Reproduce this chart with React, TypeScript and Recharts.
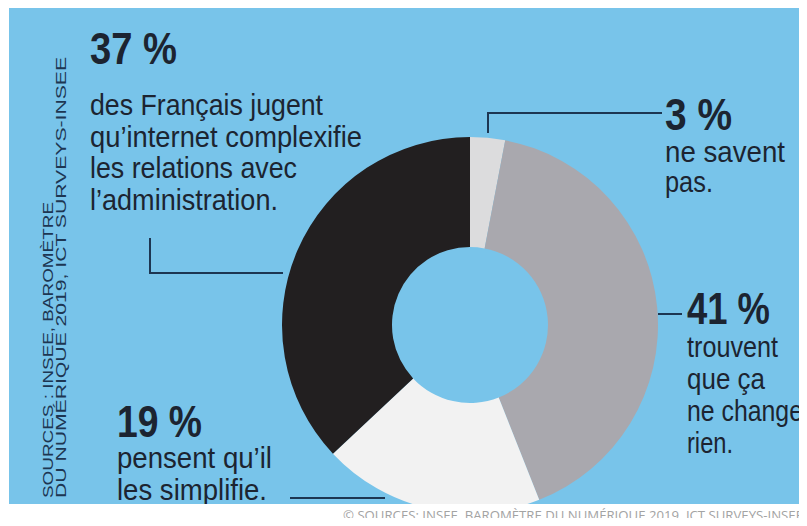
import { PieChart, Pie, Cell } from 'recharts';

// share of French people, by opinion on internet & administration (INSEE 2019)
const categories = ['ne savent pas', 'ne change rien', 'simplifie', 'complexifie'];
const shares = [3, 41, 19, 37];

const label37 = ['des Français jugent', 'qu’internet complexifie', 'les relations avec', 'l’administration.'];
const label3 = ['ne savent', 'pas.'];
const label41 = ['trouvent', 'que ça', 'ne change', 'rien.'];
const label19 = ['pensent qu’il', 'les simplifie.'];

const sideSource = ['SOURCES : INSEE, BAROMÈTRE', 'DU NUMÉRIQUE 2019, ICT SURVEYS-INSEE'];
const caption = '© SOURCES: INSEE, BAROMÈTRE DU NUMÉRIQUE 2019, ICT SURVEYS-INSEE';

const COLORS = ['#dcdcdd', '#a9a8ae', '#f2f2f2', '#221f20'];
const BLUE = '#78c4ea';
const INK = '#1c2431';
const LINE = '#1d3652';

const W = 797;
const H = 497;
const CX = 456;
const CY = 313;

const data = categories.map((name, i) => ({ name, value: shares[i] }));

const font = '"Liberation Sans", Arial, sans-serif';

function Block({ x, y, head, lines, headW, lineW, gap = 32, first = 51 }: any) {
  return (
    <g>
      <text x={x} y={y} fontFamily={font} fontWeight={700} fontSize={44} fill={INK}
        textLength={headW} lengthAdjust="spacingAndGlyphs">
        {head}
      </text>
      {lines.map((l: string, i: number) => (
        <text key={l} x={x} y={y + first + i * gap} fontFamily={font} fontSize={29} fill={INK}
          textLength={lineW[i]} lengthAdjust="spacingAndGlyphs">
          {l}
        </text>
      ))}
    </g>
  );
}

export default function App() {
  return (
    <div style={{ width: 791, height: 510, position: 'relative' }}>
      <div style={{ position: 'absolute', left: 1, top: -1, width: W, height: H, background: BLUE, overflow: 'hidden' }}>
        <PieChart width={W} height={H}>
          <Pie
            data={data}
            dataKey="value"
            nameKey="name"
            cx={CX}
            cy={CY}
            innerRadius={78}
            outerRadius={188}
            startAngle={90}
            endAngle={-270}
            stroke="none"
            isAnimationActive={false}
          >
            {data.map((d, i) => (
              <Cell key={d.name} fill={COLORS[i]} />
            ))}
          </Pie>

          {/* leader lines */}
          <polyline points="141,231 141,266 274,266" fill="none" stroke={LINE} strokeWidth={2} />
          <polyline points="479,126 479,106 653,106" fill="none" stroke={LINE} strokeWidth={2} />
          <line x1={649} y1={307} x2={673} y2={307} stroke={LINE} strokeWidth={2} />
          <line x1={281} y1={491} x2={376} y2={491} stroke={LINE} strokeWidth={2} />

          <Block x={81} y={57} head={`${shares[3]} %`} headW={87} lines={label37}
            lineW={[233, 272, 207, 188]} first={51} gap={31.7} />
          <Block x={656} y={123} head={`${shares[0]} %`} headW={67} lines={label3}
            lineW={[120, 48]} first={32} gap={30} />
          <Block x={678} y={317} head={`${shares[1]} %`} headW={83} lines={label41}
            lineW={[91, 78, 116, 46]} first={33} gap={32} />
          <Block x={108} y={430} head={`${shares[2]} %`} headW={85} lines={label19}
            lineW={[155, 150]} first={31} gap={32} />

          {/* vertical source note */}
          <text x={44} y={491} transform="rotate(-90 44 491)" fontFamily={font} fontSize={15.5}
            fill={LINE} textLength={296} lengthAdjust="spacingAndGlyphs">
            {sideSource[0]}
          </text>
          <text x={57} y={491} transform="rotate(-90 57 491)" fontFamily={font} fontSize={15.5}
            fill={LINE} textLength={441} lengthAdjust="spacingAndGlyphs">
            {sideSource[1]}
          </text>
        </PieChart>
      </div>
      <svg width={W} height={20} style={{ position: 'absolute', left: 1, top: 496, display: 'block' }}>
        <text x={334} y={15.5} fontFamily='"Open Sans", sans-serif' fontSize={13} fill="#a3a3a3"
          textLength={460} lengthAdjust="spacingAndGlyphs">
          {caption}
        </text>
      </svg>
    </div>
  );
}
